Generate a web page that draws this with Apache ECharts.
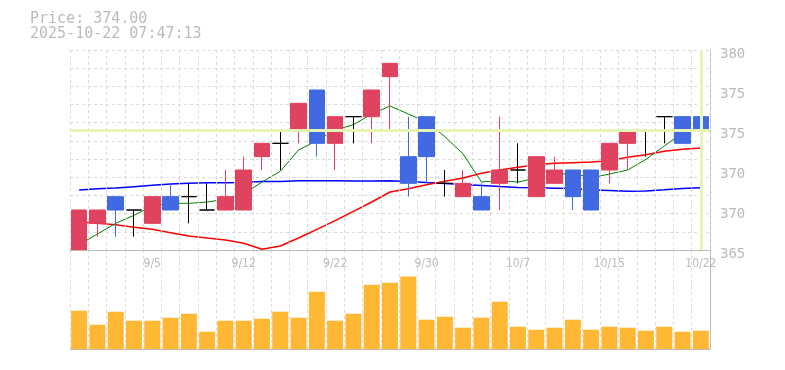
<!DOCTYPE html>
<html>
<head>
<meta charset="utf-8">
<script src="https://cdn.jsdelivr.net/npm/echarts@6/dist/echarts.min.js"></script>
<style>html,body{margin:0;padding:0;background:#fff;}#c{width:785px;height:370px;}</style>
</head>
<body>
<div id="c"></div>
<script>
const dates = ['9/1','9/2','9/3','9/4','9/5','9/8','9/9','9/10','9/11','9/12','9/16','9/17','9/18','9/19','9/22','9/24','9/25','9/26','9/29','9/30','10/1','10/2','10/3','10/6','10/7','10/8','10/9','10/10','10/14','10/15','10/16','10/17','10/20','10/21','10/22'];
const opens  = [365,367,369,368,367,369,369,368,368,368,372,373,374,377,373,375,375,378,372,375,370,369,369,370,371,369,370,371,371,371,373,374,375,375,375];
const closes = [368,368,368,368,369,368,369,368,369,371,373,373,376,373,375,375,377,379,370,372,370,370,368,371,371,372,371,369,368,373,374,374,375,373,374];
const lows   = [365,366,366,366,367,368,367,368,368,368,371,371,373,372,371,373,373,374,369,370,369,369,368,368,370,369,370,368,368,370,371,372,373,373,373];
const highs  = [368,368,369,368,369,370,370,370,371,372,373,374,376,377,375,375,377,379,375,375,371,371,370,375,373,372,372,371,371,373,374,374,375,375,375];
const volumes = [383,243,373,283,283,313,353,173,283,283,303,373,313,573,283,353,643,663,726,293,323,213,313,473,223,193,213,293,193,223,213,183,223,173,183];
const ma5  = [365.4,366.2,367.0,367.6,368.3,368.5,368.5,368.6,368.8,369.2,370.1,370.9,372.5,373.2,374.0,374.4,375.2,375.8,375.2,374.6,373.5,372.2,370.1,370.2,370.1,370.4,370.6,370.8,370.4,370.7,371.0,371.8,372.8,373.8,374.0];
const ma25 = [367.1,367.0,366.9,366.7,366.55,366.3,366.05,365.9,365.75,365.5,365.05,365.3,365.9,366.55,367.2,367.9,368.6,369.35,369.6,369.9,370.15,370.4,370.75,371.0,371.2,371.4,371.5,371.55,371.6,371.7,371.95,372.15,372.4,372.55,372.65];
const ma75 = [369.5,369.6,369.65,369.75,369.85,369.95,370.0,370.04,370.04,370.06,370.14,370.14,370.19,370.19,370.19,370.17,370.17,370.19,370.14,370.06,369.99,369.91,369.84,369.76,369.69,369.66,369.64,369.61,369.5,369.46,369.41,369.43,369.51,369.61,369.66];
const priceTicks = ['365','370','370','375','375','380'];
const lastPrice = 374.00;
const stamp = '2025-10-22 07:47:13';

const GRAY = '#bbbbbb';
const GRID = '#dadada';
const MONO = "'DejaVu Sans Mono', monospace";
const UP = '#e0435f', DOWN = '#4169e1', VOL = '#ffb833', PL = '#e6f5b4';

const candleData = dates.map((d, i) => {
  const v = [opens[i], closes[i], lows[i], highs[i]];
  if (opens[i] === closes[i]) {
    return {value: v, itemStyle: {color: '#000', color0: '#000', borderColor: '#000', borderColor0: '#000'}};
  }
  return v;
});

const chart = echarts.init(document.getElementById('c'), null, {renderer: 'canvas'});
chart.setOption({
  animation: false,
  backgroundColor: '#fff',
  title: {
    text: 'Price: ' + lastPrice.toFixed(2) + '\n' + stamp,
    left: 30, top: 12, padding: 0,
    textStyle: {fontFamily: MONO, fontSize: 15, lineHeight: 15, color: GRAY, fontWeight: 'normal'}
  },
  grid: [
    {left: 70, right: 75, top: 50, height: 200},
    {left: 70, right: 75, top: 250, height: 99}
  ],
  xAxis: [
    {
      type: 'category', gridIndex: 0, data: dates, boundaryGap: true,
      axisLine: {show: true, lineStyle: {color: GRAY, width: 1}},
      axisTick: {show: false},
      axisLabel: {
        show: true, margin: 8, color: GRAY, fontSize: 12,
        fontFamily: "'DejaVu Sans Condensed', 'DejaVu Sans Mono', monospace",
        interval: (idx) => idx % 5 === 4
      },
      splitLine: {show: true, interval: 0, lineStyle: {color: GRID, type: [3, 3], width: 1}},
      z: 5
    },
    {
      type: 'category', gridIndex: 1, data: dates, boundaryGap: true,
      axisLine: {show: true, lineStyle: {color: GRAY, width: 1}},
      axisTick: {show: false},
      axisLabel: {show: false},
      splitLine: {show: true, interval: 0, lineStyle: {color: GRID, type: [3, 3], width: 1}}
    }
  ],
  yAxis: [
    {
      type: 'value', gridIndex: 0, position: 'right', min: 365, max: 380,
      axisLine: {show: true, lineStyle: {color: GRAY, width: 1}},
      axisTick: {show: false}, axisLabel: {show: false}, splitLine: {show: false}
    },
    {
      type: 'value', gridIndex: 0, position: 'right', min: 0, max: 15, interval: 3,
      axisLine: {show: false}, axisTick: {show: false}, splitLine: {show: false},
      axisLabel: {
        show: true, margin: 10, color: GRAY, fontSize: 14, fontFamily: MONO,
        verticalAlign: 'top', lineHeight: 9,
        formatter: (v, i) => priceTicks[i]
      }
    },
    {
      type: 'value', gridIndex: 0, position: 'left', min: 0, max: 11, interval: 1,
      axisLine: {show: false}, axisTick: {show: false}, axisLabel: {show: false},
      splitLine: {show: true, lineStyle: {color: GRID, type: [3, 3], width: 1}}
    },
    {
      type: 'value', gridIndex: 1, position: 'right', min: 0, max: 990,
      axisLine: {show: true, lineStyle: {color: GRAY, width: 1}},
      axisTick: {show: false}, axisLabel: {show: false}, splitLine: {show: false}
    }
  ],
  series: [
    {
      name: 'price', type: 'line', xAxisIndex: 0, yAxisIndex: 0, data: [], z: 1,
      markLine: {
        silent: true, symbol: 'none', label: {show: false},
        lineStyle: {color: PL, width: 3, type: 'solid'},
        data: [{yAxis: lastPrice}, {xAxis: dates[dates.length - 1]}]
      }
    },
    {name: 'MA75', type: 'line', xAxisIndex: 0, yAxisIndex: 0, data: ma75, symbol: 'none', z: 2,
      lineStyle: {color: '#0000ff', width: 1.5}},
    {name: 'MA25', type: 'line', xAxisIndex: 0, yAxisIndex: 0, data: ma25, symbol: 'none', z: 2,
      lineStyle: {color: '#ff0000', width: 1.5}},
    {name: 'MA5', type: 'line', xAxisIndex: 0, yAxisIndex: 0, data: ma5, symbol: 'none', z: 2,
      lineStyle: {color: '#008000', width: 1}},
    {
      name: 'candle', type: 'candlestick', xAxisIndex: 0, yAxisIndex: 0, data: candleData, z: 4,
      barWidth: 16,
      itemStyle: {color: UP, color0: DOWN, borderColor: UP, borderColor0: DOWN, borderColorDoji: '#000', borderWidth: 1}
    },
    {
      name: 'volume', type: 'bar', xAxisIndex: 1, yAxisIndex: 3, data: volumes, barWidth: 16,
      itemStyle: {color: VOL}
    }
  ]
});
</script>
</body>
</html>
